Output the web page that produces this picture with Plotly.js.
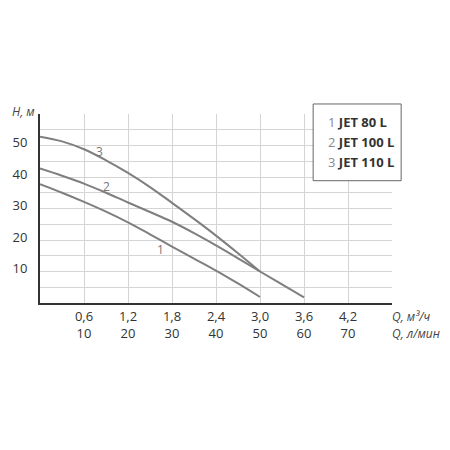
<!DOCTYPE html>
<html>
<head>
<meta charset="utf-8">
<script src="https://cdn.plot.ly/plotly-3.0.1.min.js"></script>
<style>html,body{margin:0;padding:0;background:#fff;}#chart{width:450px;height:450px;}</style>
</head>
<body>
<div id="chart"></div>
<script>
// Flow Q, m3/h  and head H, m
const q1 = [0, 0.3, 0.6, 0.9, 1.2, 1.5, 1.8, 2.1, 2.4, 2.7, 3.0];
const h1 = [37.7, 35.0, 32.1, 29.0, 25.6, 21.8, 17.9, 14.1, 10.3, 6.2, 1.9];
const q2 = [0, 0.3, 0.6, 0.9, 1.2, 1.5, 1.8, 2.1, 2.4, 2.7, 3.0, 3.3, 3.6];
const h2 = [42.7, 40.4, 37.9, 35.0, 31.9, 28.9, 25.8, 22.2, 18.3, 14.2, 10.0, 5.9, 1.8];
const q3 = [0, 0.3, 0.6, 0.9, 1.2, 1.5, 1.8, 2.1, 2.4, 2.7, 3.0];
const h3 = [52.8, 51.3, 48.8, 45.3, 41.3, 36.8, 31.8, 26.7, 21.4, 15.8, 10.0];
const curveNames = ['1', '2', '3'];
const legendNames = ['JET 80 L', 'JET 100 L', 'JET 110 L'];
// Axis ticks
const xTickVals = [0, 0.6, 1.2, 1.8, 2.4, 3.0, 3.6, 4.2, 4.8];
const xTickM3h = ['', '0,6', '1,2', '1,8', '2,4', '3,0', '3,6', '4,2', ''];
const xTickLmin = ['', '10', '20', '30', '40', '50', '60', '70', ''];
const yTickVals = [0, 5, 10, 15, 20, 25, 30, 35, 40, 45, 50, 55, 60];
const yTickText = ['', '', '10', '', '20', '', '30', '', '40', '', '50', '', ''];
// Curve label positions
const labelQ = [1.64, 0.91, 0.81];
const labelH = [16.9, 37.0, 48.0];

const lineStyle = {color: '#7f7f7f', width: 2, shape: 'spline', smoothing: 1};
const traces = [[q1, h1], [q2, h2], [q3, h3]].map((d, i) => ({
  x: d[0], y: d[1], mode: 'lines', type: 'scatter', line: lineStyle,
  name: legendNames[i], hoverinfo: 'skip'
}));

const font = {family: 'Open Sans, sans-serif', size: 13, color: '#333'};
const annotations = [];
for (let i = 0; i < 3; i++) {
  annotations.push({x: labelQ[i], y: labelH[i], xref: 'x', yref: 'y', text: curveNames[i],
    showarrow: false, font: {family: font.family, size: 12, color: '#777'}});
}
const legY = [0.956, 0.850, 0.746];
for (let i = 0; i < 3; i++) {
  annotations.push({x: 0.8117, y: legY[i], xref: 'paper', yref: 'paper', xanchor: 'left', yanchor: 'middle',
    text: "<span style='color:#888'>" + curveNames[i] + "</span> <b>" + legendNames[i] + "</b>",
    showarrow: false, font: {family: font.family, size: 13, color: '#333'}});
}
annotations.push({x: -0.085, y: 1.012, xref: 'paper', yref: 'paper', xanchor: 'left', yanchor: 'middle',
  text: '<i>H, м</i>', showarrow: false, font: {family: font.family, size: 12, color: '#444'}});
annotations.push({x: 0.994, y: -0.074, xref: 'paper', yref: 'paper', xanchor: 'left', yanchor: 'middle',
  text: '<i>Q, м³/ч</i>', showarrow: false, font: {family: font.family, size: 12, color: '#444'}});
annotations.push({x: 0.994, y: -0.164, xref: 'paper', yref: 'paper', xanchor: 'left', yanchor: 'middle',
  text: '<i>Q, л/мин</i>', showarrow: false, font: {family: font.family, size: 12, color: '#444'}});

const layout = {
  width: 450, height: 450,
  margin: {l: 40, r: 58, t: 114, b: 147.3},
  paper_bgcolor: '#fff', plot_bgcolor: '#fff',
  showlegend: false,
  font: font,
  xaxis: {range: [0, 4.8], tickmode: 'array', tickvals: xTickVals,
    ticktext: xTickVals.map((v, i) => xTickM3h[i] ? xTickM3h[i] + '<br>' + xTickLmin[i] : ''),
    showgrid: true, gridcolor: '#d4d4d4', gridwidth: 1, zeroline: false,
    showline: true, linecolor: '#333', linewidth: 2, ticks: '', ticklabelstandoff: 0,
    tickfont: {family: font.family, size: 13, color: '#333'}, fixedrange: true},
  yaxis: {range: [0, 60], tickmode: 'array', tickvals: yTickVals, ticktext: yTickText,
    showgrid: true, gridcolor: '#d4d4d4', gridwidth: 1, zeroline: false,
    showline: true, linecolor: '#333', linewidth: 2, ticks: '', ticklabelstandoff: 8,
    ticklabelshift: -3,
    tickfont: {family: font.family, size: 13, color: '#333'}, fixedrange: true},
  shapes: [{type: 'rect', xref: 'paper', yref: 'paper', x0: 0.776, x1: 1.026, y0: 0.647, y1: 1.053,
    line: {color: '#666', width: 1}, fillcolor: '#fff', layer: 'above'}],
  annotations: annotations
};
Plotly.newPlot('chart', traces, layout, {staticPlot: true});
</script>
</body>
</html>
